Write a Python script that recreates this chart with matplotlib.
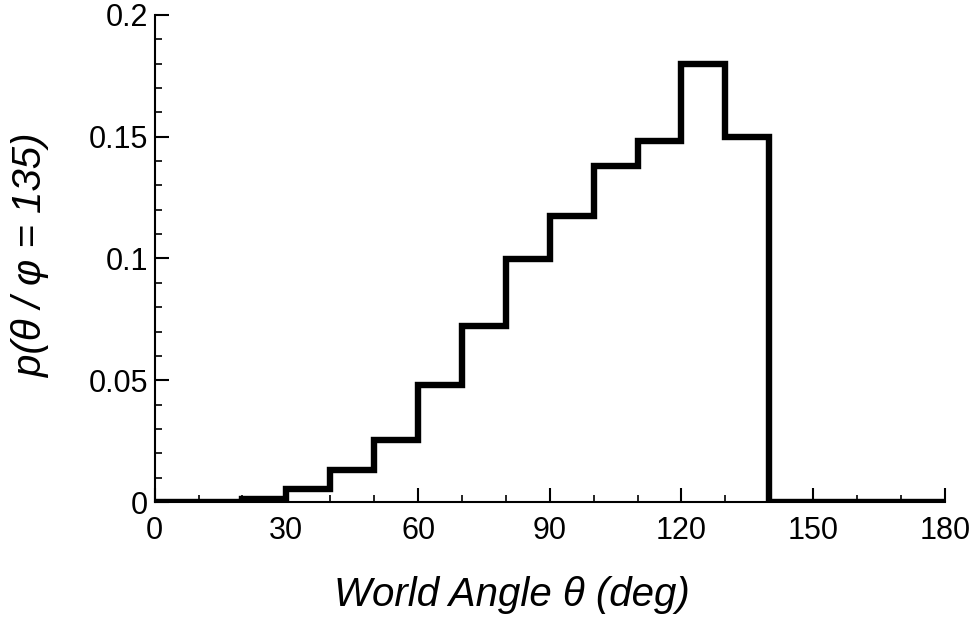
import matplotlib
matplotlib.use("Agg")
import matplotlib.pyplot as plt
from matplotlib.ticker import MultipleLocator

# bin edges (deg) and probability per 10-degree bin
edges = list(range(0, 190, 10))
prob = [0.0, 0.0, 0.0013, 0.0055, 0.0132, 0.0255, 0.048, 0.0722, 0.0996,
        0.1173, 0.1378, 0.1484, 0.180, 0.150, 0.0, 0.0, 0.0, 0.0]

xticks = [0, 30, 60, 90, 120, 150, 180]
yticks = [0, 0.05, 0.1, 0.15, 0.2]
ytick_labels = ["0", "0.05", "0.1", "0.15", "0.2"]

plt.rcParams['font.family'] = ['Liberation Sans', 'DejaVu Sans']

fig = plt.figure(figsize=(9.73, 6.19), dpi=100)
ax = fig.add_axes([0.159, 0.189, 0.812, 0.787])

ax.stairs(prob, edges, color="black", linewidth=4.6)

ax.set_xlim(0, 180)
ax.set_ylim(0, 0.2)
ax.set_xticks(xticks)
ax.xaxis.set_minor_locator(MultipleLocator(10))
ax.set_yticks(yticks)
ax.set_yticklabels(ytick_labels)
ax.yaxis.set_minor_locator(MultipleLocator(0.01))

for s in ["top", "right"]:
    ax.spines[s].set_visible(False)
for s in ["left", "bottom"]:
    ax.spines[s].set_linewidth(1.5)

ax.tick_params(which="major", direction="in", length=10, width=1.5, labelsize=22)
ax.tick_params(axis="x", which="major", pad=10)
ax.tick_params(axis="y", which="major", pad=5)
ax.tick_params(which="minor", direction="in", length=5, width=1.2)

ax.set_xlabel("World Angle θ (deg)", fontsize=29, style="italic")
ax.set_ylabel("p(θ / φ = 135)", fontsize=29, style="italic")
ax.xaxis.set_label_coords(0.452, -0.152)
ax.yaxis.set_label_coords(-0.133, 0.506)

fig.savefig("out.png", dpi=100)
